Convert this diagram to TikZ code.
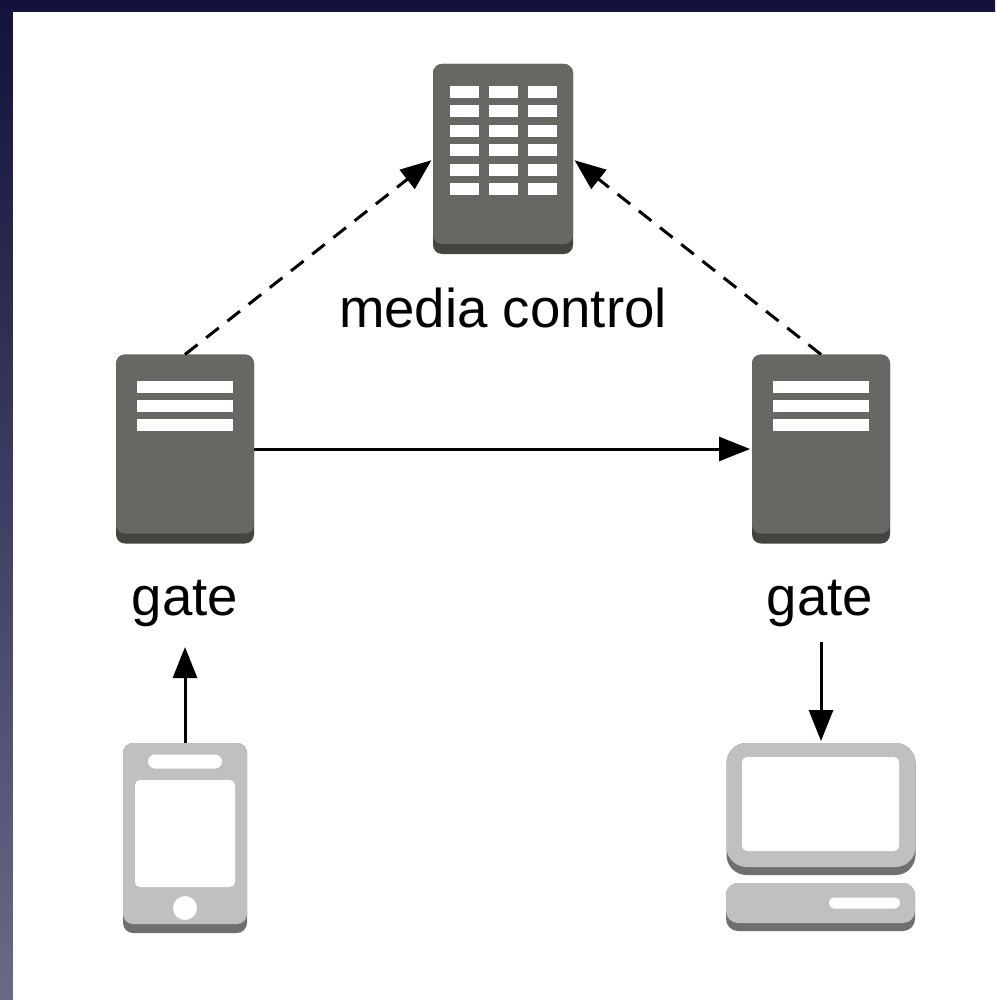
\documentclass[tikz,border=0pt]{standalone}
\usepackage{fontspec}
\setmainfont{Liberation Sans}
\usetikzlibrary{arrows.meta, positioning}
\definecolor{rackDark}{HTML}{434541}
\definecolor{rackMid}{HTML}{666864}
\definecolor{deviceDark}{HTML}{6E706D}
\definecolor{deviceLight}{HTML}{C0C0BE}
\definecolor{screenTop}{HTML}{12123A}
\definecolor{screenMid}{HTML}{3A3A62}
\definecolor{screenBottom}{HTML}{6A6A86}
\tikzset{
    box/.style={rectangle, inner sep=0pt, outer sep=0pt},
    arrow_solid/.style={-{Triangle[length=31pt, width=24pt]}, line width=3pt, draw=black},
    arrow_dashed/.style={arrow_solid, dash pattern=on 16pt off 11pt}
}

\begin{document}
\begin{tikzpicture}[
    x=1pt, y=-1pt,
    every node/.style={font=\fontsize{54.6}{60}\selectfont, text=black},
    rack_base/.style={box, rounded corners=9pt, fill=rackDark, minimum width=#1},
    rack_face/.style={box, rounded corners=9pt, fill=rackMid, minimum width=#1},
    bar/.style={box, fill=white, minimum height=12pt, minimum width=#1},
    device_base/.style={box, fill=deviceDark, minimum width=#1},
    device_face/.style={box, fill=deviceLight, minimum width=#1},
    blank/.style={box, fill=white, minimum width=#1},
]
\useasboundingbox (0,0) rectangle (995,1000);

% ====== BACKGROUND ======
\shade[top color=screenTop, middle color=screenMid, bottom color=screenBottom] (0,0) rectangle (995,1000);
\fill[white] (12.5,12) rectangle (1005,1010);

% ====== MEDIA CONTROL ======
\node[rack_base=140pt, minimum height=190pt] (media) at (503,159) {};
\node[rack_face=140pt, minimum height=180pt] (media_face) at (503,154) {};
\foreach \r in {0,...,5} {
    \node[bar=29pt] (media_a\r) at (464,92+19.5*\r) {};
    \node[bar=29pt] (media_b\r) at (503,92+19.5*\r) {};
    \node[bar=29pt] (media_c\r) at (542,92+19.5*\r) {};
}
\node (media_label) at (503,308) {media control};

% ====== GATES ======
\node[rack_base=138pt, minimum height=189pt] (gate_l) at (185,449) {};
\node[rack_face=138pt, minimum height=179pt] (gate_l_face) at (185,444) {};
\node[rack_base=138pt, minimum height=189pt] (gate_r) at (821,449) {};
\node[rack_face=138pt, minimum height=179pt] (gate_r_face) at (821,444) {};
\foreach \r in {0,1,2} {
    \node[bar=96pt] (gate_l_bar\r) at (185,386.5+19*\r) {};
    \node[bar=96pt] (gate_r_bar\r) at (821,386.5+19*\r) {};
}
\node (gate_l_label) at (185,604) {gate};
\node (gate_r_label) at (820,604) {gate};

% ====== PHONE ======
\node[device_base=124pt, minimum height=190pt, rounded corners=10pt] (phone) at (185,838) {};
\node[device_face=124pt, minimum height=181pt, rounded corners=10pt] (phone_face) at (185,833.5) {};
\node[blank=74pt, minimum height=14pt, rounded corners=7pt] (phone_speaker) at (185,761.5) {};
\node[blank=100pt, minimum height=107pt, rounded corners=5pt] (phone_screen) at (185,833.5) {};
\node[blank=24pt, minimum height=24pt, circle] (phone_button) at (185,908) {};

% ====== COMPUTER ======
\node[device_base=189pt, minimum height=132pt, rounded corners=20pt] (monitor) at (821,809) {};
\node[device_face=189pt, minimum height=124pt, rounded corners=20pt] (monitor_face) at (821,805) {};
\node[blank=157pt, minimum height=94pt, rounded corners=5pt] (monitor_screen) at (820.5,804) {};
\node[device_base=189pt, minimum height=48pt, rounded corners=12pt] (tower) at (820.5,907) {};
\node[device_face=189pt, minimum height=40pt, rounded corners=12pt] (tower_face) at (820.5,903) {};
\node[blank=71pt, minimum height=11pt, rounded corners=5pt] (tower_slot) at (864.5,903) {};

% --- arrow ends ---
\coordinate (tip_up) at (185,647);
\coordinate (tail_down) at (821,642);

% --- arrows ---
\draw[arrow_dashed, shorten >=2pt] (gate_l.north) -- (media.west);
\draw[arrow_dashed, shorten >=2pt] (gate_r.north) -- (media.east);
\draw[arrow_solid, shorten >=2pt] (gate_l.east) -- (gate_r.west);
\draw[arrow_solid] (phone.north) -- (tip_up);
\draw[arrow_solid, shorten >=2pt] (tail_down) -- (monitor.north);

\end{tikzpicture}
\end{document}
